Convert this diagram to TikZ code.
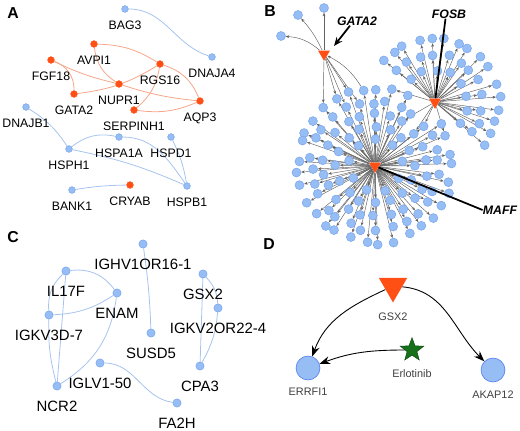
\documentclass[tikz,border=0pt]{standalone}
\usepackage{fontspec}
\setmainfont{Liberation Sans}
\usepackage{tikz}
\usetikzlibrary{arrows.meta,shapes.geometric,backgrounds}
\definecolor{hubred}{HTML}{FF4F14}
\definecolor{genefill}{HTML}{96BDF4}
\definecolor{generim}{HTML}{78A6EE}
\definecolor{blueedge}{HTML}{A6C3EE}
\definecolor{rededge}{HTML}{F6A587}
\definecolor{drugreen}{HTML}{17701A}
\definecolor{labgrey}{HTML}{404040}
\tikzset{panel/.style={font=\fontsize{9}{10}\selectfont\bfseries,inner sep=0pt}, anode/.style={circle,fill=genefill,draw=generim,line width=.3pt,inner sep=0pt,minimum size=3.8pt}, anodered/.style={anode,fill=hubred,draw=hubred}, alab/.style={font=\fontsize{7}{8}\selectfont,inner sep=0pt,yshift=-4.6pt}, cnode/.style={anode,minimum size=4.7pt}, clab/.style={font=\fontsize{8.5}{10}\selectfont,inner sep=0pt,yshift=-6pt}, bluelink/.style={blueedge,line width=.45pt}, redlink/.style={rededge,line width=.45pt}, bnode/.style={circle,fill=genefill,draw=generim,line width=.3pt,inner sep=0pt,minimum size=5.1pt}, hub/.style={regular polygon,regular polygon sides=3,shape border rotate=180,fill=hubred,inner sep=0pt,minimum size=7.8pt}, bedge/.style={draw=black!62,line width=.26pt,-{Stealth[length=2pt,width=1.6pt]}}, callout/.style={line width=1pt,black}, biglab/.style={font=\fontsize{7}{8}\selectfont\bfseries\itshape,inner sep=0pt}, dgene/.style={circle,fill=genefill,draw=generim!80!blue,line width=.4pt,minimum size=13.6pt,inner sep=0pt}, dhub/.style={hub,minimum size=18.7pt}, drug/.style={star,star points=5,star point ratio=2.4,fill=drugreen,draw=drugreen!70!black,line width=.3pt,inner sep=0pt,minimum size=14pt}, dlab/.style={font=\fontsize{6.2}{7}\selectfont,text=labgrey,inner sep=0pt}, darrow/.style={black,line width=.5pt,-{Stealth[length=6pt,width=4.5pt]}}}
\begin{document}
\begin{tikzpicture}[x=0.02cm,y=0.02cm]
\path[use as bounding box] (0,0) rectangle (520,-430);
\node[panel] (pa) at (13,-13) {A};
\node[panel] (pb) at (270,-11) {B};
\node[panel] (pc) at (13,-237) {C};
\node[panel] (pd) at (269,-244) {D};

\foreach \nm/\x/\y/\txt in {bag3/125/9/BAG3, dnaja4/212/57/DNAJA4, dnajb1/26/107/DNAJB1, hsph1/69/149/HSPH1, hspa1a/119/137/HSPA1A, hspd1/171/137/HSPD1, hspb1/187/186/HSPB1, bank1/72/190/BANK1}
  \node[anode,label={[alab]below:\txt}] (\nm) at (\x,-\y) {};
\foreach \nm/\x/\y/\txt in {avpi1/94/44/AVPI1, fgf18/51/60/FGF18, rgs16/160/64/RGS16, nupr1/119/84/NUPR1, gata2/74/94/GATA2, serpinh1/134/110/SERPINH1, aqp3/200/101/AQP3, cryab/130/185/CRYAB}
  \node[anodered,label={[alab]below:\txt}] (\nm) at (\x,-\y) {};
\begin{scope}[on background layer]
\draw[bluelink] (bag3) to[out=0,in=162] (dnaja4);
\draw[bluelink] (dnajb1) to[bend left=12] (hsph1);
\draw[bluelink] (hsph1) to[bend left=25] (hspa1a);
\draw[bluelink] (hsph1) to[bend left=6] (hspb1);
\draw[bluelink] (hspa1a) to[out=0,in=125] (hspb1);
\draw[bluelink] (hspd1) to[bend left=8] (hspb1);
\draw[bluelink] (bank1) to[bend left=4] (cryab);
\draw[redlink] (fgf18) to[bend left=35] (gata2);
\draw[redlink] (fgf18) to[bend right=6] (nupr1);
\draw[redlink] (nupr1) to[bend right=6] (aqp3);
\draw[redlink] (avpi1) to[bend right=25] (nupr1);
\draw[redlink] (avpi1) to[bend left=15] (rgs16);
\draw[redlink] (gata2) to[bend right=12] (rgs16);
\draw[redlink] (rgs16) to[bend left=25] (aqp3);
\draw[redlink] (rgs16) to[bend left=20] (serpinh1);
\draw[redlink] (serpinh1) to[bend right=15] (aqp3);
\end{scope}

\foreach \nm/\x/\y/\txt in {ighv/143/244/IGHV1OR16-1, il17f/66/271/IL17F, enam/117/293/ENAM, igkv3d/49/315/IGKV3D-7, susd5/151/333/SUSD5, gsxc/203/274/GSX2, igkv2/218/308/IGKV2OR22-4, cpa3/200/366/CPA3, iglv/100/363/IGLV1-50, ncr2/57/386/NCR2, fa2h/177/403/FA2H}
  \node[cnode,label={[clab]below:\txt}] (\nm) at (\x,-\y) {};
\begin{scope}[on background layer]
\draw[bluelink] (il17f) to[bend left=30] (enam);
\draw[bluelink] (il17f) to[bend right=25] (igkv3d);
\draw[bluelink] (il17f) -- (ncr2);
\draw[bluelink] (igkv3d) to[bend right=15] (enam);
\draw[bluelink] (igkv3d) to[bend right=8] (ncr2);
\draw[bluelink] (enam) to[bend left=25] (ncr2);
\draw[bluelink] (ighv) to[bend left=3] (susd5);
\draw[bluelink] (gsxc) -- (cpa3);
\draw[bluelink] (gsxc) to[bend left=20] (igkv2);
\draw[bluelink] (igkv2) to[bend left=12] (cpa3);
\draw[bluelink] (iglv) to[out=0,in=172] (fa2h);
\end{scope}

\pgfmathsetseed{11}
\node[hub] (gatahub) at (324,-54) {};
\node[hub] (fosbhub) at (435,-102) {};
\node[hub] (maffhub) at (375,-166) {};
\foreach \r/\n/\o in {26/9/10,38/16/0,51/22/8,64/28/3,77/33/0}{
  \foreach \k in {1,...,\n}{
    \pgfmathsetmacro{\jr}{\r+2*rand}
    \pgfmathsetmacro{\ja}{\o+360*\k/\n+3*rand}
    \pgfmathsetmacro{\px}{375+\jr*cos(\ja)}
    \pgfmathsetmacro{\py}{-166+\jr*sin(\ja)}
    \pgfmathtruncatemacro{\keep}{veclen(\px-435,\py+102)>18}
    \ifnum\keep=1
      \node[bnode] (m\r-\k) at (\px,\py) {};
      \scoped[on background layer] \draw[bedge] (maffhub) -- (m\r-\k);
    \fi
  }
}
\foreach \r/\n in {32/8,48/12,64/16}{
  \foreach \k in {1,...,\n}{
    \pgfmathsetmacro{\jr}{\r+2*rand}
    \pgfmathsetmacro{\ja}{-50+200*(\k-0.5)/\n+3*rand}
    \pgfmathsetmacro{\px}{435+\jr*cos(\ja)}
    \pgfmathsetmacro{\py}{-102+\jr*sin(\ja)}
    \node[bnode] (f\r-\k) at (\px,\py) {};
    \scoped[on background layer] \draw[bedge] (fosbhub) -- (f\r-\k);
  }
}
\node[bnode] (g1) at (324,-8) {};
\node[bnode] (g2) at (298,-15) {};
\node[bnode] (g3) at (281,-36) {};
\begin{scope}[on background layer]
\draw[bedge] (gatahub) -- (g1);
\draw[bedge] (gatahub) to[bend right=8] (g2);
\draw[bedge] (gatahub) to[bend right=18] (g3);
\foreach \t in {m77-10,m77-11,m77-12,m64-8,m64-9}
  \draw[bedge] (gatahub) -- (\t);
\draw[bedge] (m77-9) to[bend right=15] (gatahub);
\foreach \t in {m77-2,m64-3,m51-2,m51-3,m77-7}
  \draw[bedge] (fosbhub) -- (\t);
\end{scope}
\node[biglab] (gatalab) at (357,-21) {GATA2};
\node[biglab] (fosblab) at (449,-14) {FOSB};
\node[biglab] (mafflab) at (500,-210) {MAFF};
\coordinate (gatapoint) at (334,-46);
\draw[callout,-{Stealth[length=5pt,width=4pt]}] ([xshift=-4pt]gatalab.south) -- (gatapoint);
\draw[callout] ([xshift=-2pt]fosblab.south) -- (fosbhub);
\draw[callout] (mafflab.west) -- (maffhub);

\node[dhub] (gsxhub) at (393,-286) {};
\node[dgene] (errfi) at (308,-368) {};
\node[dgene] (akap) at (493,-370) {};
\node[drug] (erlot) at (412,-350) {};
\node[dlab] (gsxlab) at (393,-317) {GSX2};
\node[dlab] (errfilab) at (308,-392) {ERRFI1};
\node[dlab] (akaplab) at (493,-395) {AKAP12};
\node[dlab] (erlotlab) at (412,-374) {Erlotinib};
\draw[darrow] (gsxhub) to[out=205,in=70] (errfi);
\draw[darrow] (gsxhub) to[out=-5,in=135] (akap);
\draw[darrow] (erlot) to[out=180,in=20] (errfi);
\end{tikzpicture}
\end{document}
